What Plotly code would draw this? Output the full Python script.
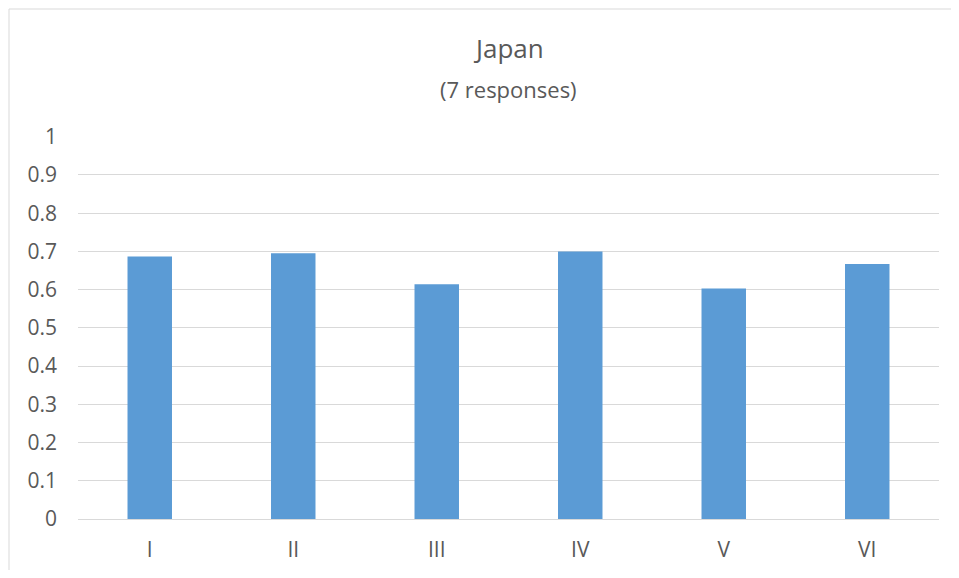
import plotly.graph_objects as go

categories = ["I", "II", "III", "IV", "V", "VI"]
values = [0.687, 0.695, 0.614, 0.700, 0.603, 0.667]

# page adds an 8px body margin, so layout is offset by that
fig = go.Figure()
fig.add_trace(go.Bar(x=categories, y=values, marker=dict(color="#5b9bd5", line=dict(width=0))))

fig.update_layout(
    width=951, height=562,
    margin=dict(l=70, r=20, t=128, b=51),
    paper_bgcolor="white", plot_bgcolor="white",
    bargap=0.69,
    showlegend=False,
    font=dict(family="Open Sans, sans-serif", color="#595959", size=21),
    annotations=[
        dict(text="Japan", xref="paper", yref="paper", x=0.5, y=(519 - 48) / 383,
             showarrow=False, font=dict(size=26, color="#595959"), yanchor="middle"),
        dict(text="(7 responses)", xref="paper", yref="paper", x=0.5, y=(519 - 89) / 383,
             showarrow=False, font=dict(size=22, color="#595959"), yanchor="middle"),
    ],
    shapes=[
        dict(type="rect", xref="paper", yref="paper", x0=(1 - 70) / 861, x1=1.2,
             y0=-0.3, y1=(511 - 1) / 383, line=dict(color="#d9d9d9", width=1)),
    ],
)
fig.update_yaxes(range=[0, 1.002], tickvals=[i / 10 for i in range(11)],
                 ticktext=["0", "0.1", "0.2", "0.3", "0.4", "0.5", "0.6", "0.7", "0.8", "0.9", "1"],
                 showgrid=True, gridcolor="#d9d9d9", gridwidth=1, zeroline=False, showline=False,
                 ticks="", ticklabelstandoff=20, fixedrange=True, automargin=False)
fig.update_xaxes(showline=True, linecolor="#d9d9d9", linewidth=1, ticks="",
                 ticklabelstandoff=12, showgrid=False, automargin=False)

fig.write_html("out.html")
